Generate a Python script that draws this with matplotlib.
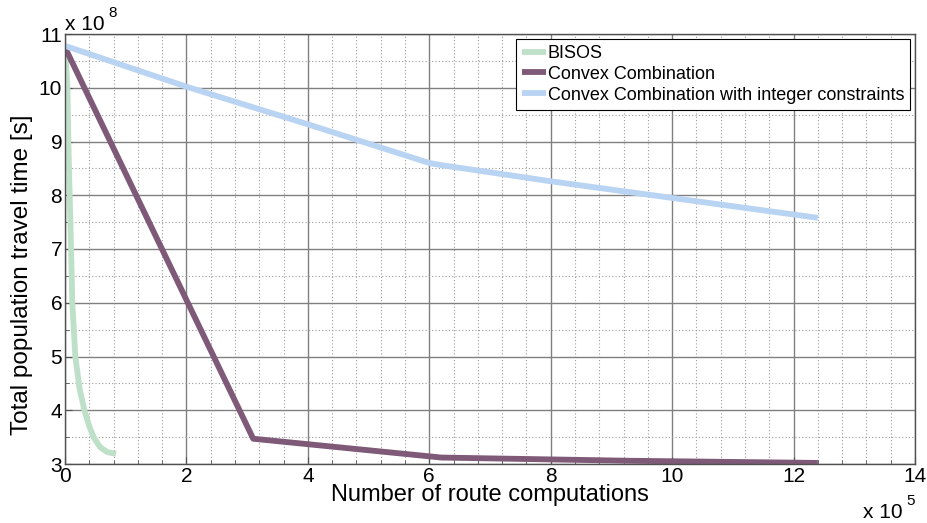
import numpy as np
import matplotlib
matplotlib.use("Agg")
import matplotlib.pyplot as plt
from matplotlib.ticker import MultipleLocator

plt.rcParams['font.family'] = ['Liberation Sans', 'DejaVu Sans']

# values (x in units of 1e5, y in units of 1e8)
bisos_x = [0.0, 0.02, 0.04, 0.055, 0.077, 0.10, 0.12, 0.17, 0.24, 0.32, 0.40, 0.47, 0.58, 0.70, 0.84]
bisos_y = [10.78, 10.4, 10.0, 9.0, 8.0, 7.0, 6.0, 5.0, 4.4, 4.0, 3.7, 3.5, 3.31, 3.22, 3.19]

cc_x = [0.0, 3.1, 6.2, 9.3, 12.4]
cc_y = [10.75, 3.47, 3.12, 3.06, 3.02]

cci_x = [0.0, 2.0, 4.0, 6.0, 6.2, 8.0, 10.0, 12.4]
cci_y = [10.78, 10.02, 9.32, 8.60, 8.56, 8.26, 7.95, 7.58]

labels = ['BISOS', 'Convex Combination', 'Convex Combination with integer constraints']
colors = ['#bfe0c8', '#7f5a78', '#b9d4f2']

fig = plt.figure(figsize=(9.27, 5.23), dpi=100)
ax = fig.add_axes([65 / 927, 1 - 464 / 523, 850 / 927, 430 / 523])

ax.plot(bisos_x, bisos_y, color=colors[0], lw=4.2, label=labels[0], solid_capstyle='butt')
ax.plot(cc_x, cc_y, color=colors[1], lw=4.2, label=labels[1], solid_capstyle='butt')
ax.plot(cci_x, cci_y, color=colors[2], lw=4.2, label=labels[2], solid_capstyle='butt')

ax.set_xlim(0, 14)
ax.set_ylim(3, 11)
ax.xaxis.set_major_locator(MultipleLocator(2))
ax.xaxis.set_minor_locator(MultipleLocator(0.4))
ax.yaxis.set_major_locator(MultipleLocator(1))
ax.yaxis.set_minor_locator(MultipleLocator(0.5))

ax.grid(which='major', color='#808080', lw=1.0, ls='-')
ax.grid(which='minor', color='#9a9a9a', lw=0.8, ls=(0, (1, 2)))
ax.set_axisbelow(True)
for s in ax.spines.values():
    s.set_color('#505050')
    s.set_linewidth(1.0)

ax.tick_params(which='both', direction='in', colors='#505050', labelcolor='black',
               labelsize=15, top=False, right=False)
ax.tick_params(which='major', length=5, pad=2)
ax.tick_params(which='minor', length=3)

ax.set_xlabel('Number of route computations', fontsize=17, labelpad=-1)
ax.set_ylabel('Total population travel time [s]', fontsize=17.5)
ax.yaxis.set_label_coords(-0.038, 0.44)

# exponent labels
fig.text(65 / 927, 1 - 30 / 523, 'x 10', fontsize=15, ha='left', va='baseline')
fig.text(108 / 927, 1 - 17 / 523, '8', fontsize=11, ha='left', va='baseline')
fig.text(863 / 927, 1 - 518 / 523, 'x 10', fontsize=15, ha='left', va='baseline')
fig.text(906 / 927, 1 - 505 / 523, '5', fontsize=11, ha='left', va='baseline')

leg = ax.legend(loc='upper right', fontsize=13, frameon=True, fancybox=False,
                edgecolor='black', framealpha=1, borderaxespad=0.25,
                handlelength=1.3, handletextpad=0.1, labelspacing=0.22,
                borderpad=0.35)
leg.get_frame().set_linewidth(0.8)

fig.savefig('out.png', dpi=100)
